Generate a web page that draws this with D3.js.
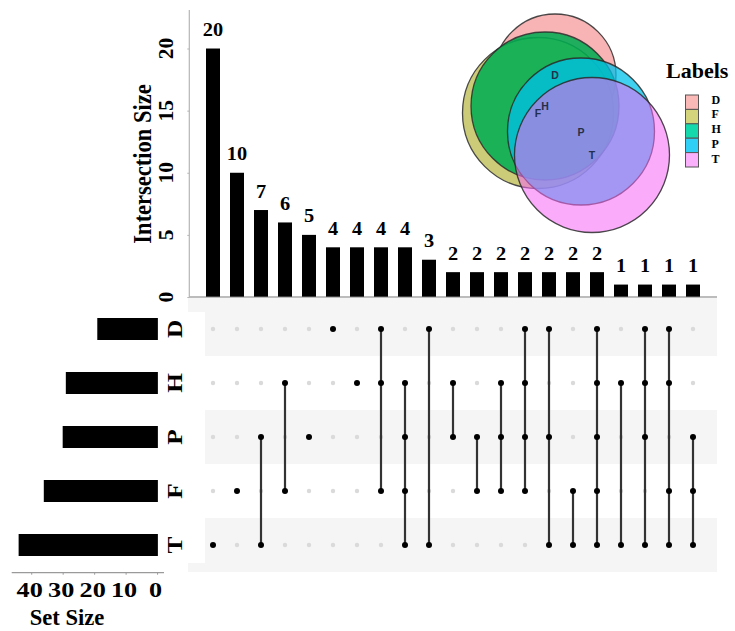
<!DOCTYPE html>
<html><head><meta charset="utf-8">
<script src="https://cdn.jsdelivr.net/npm/d3@7/dist/d3.min.js"></script>
<style>html,body{margin:0;padding:0;background:#fff;}svg{display:block;}</style>
</head><body>
<svg id="chart" width="735" height="631"></svg>
<script>
// ---------- DATA ----------
const setNames = ["D", "H", "P", "F", "T"];
const setSizes = [19, 29, 30, 36, 44];
const intersectionSizes = [20, 10, 7, 6, 5, 4, 4, 4, 4, 3, 2, 2, 2, 2, 2, 2, 2, 1, 1, 1, 1];
const intersectionSets = [
  ["T"], ["F"], ["P","T"], ["H","F"], ["P"], ["D"], ["H"], ["D","H","F"], ["H","P","F","T"],
  ["D","T"], ["H","P"], ["P","F"], ["H","P","F"], ["D","H","P","F"], ["D","P","T"], ["F","T"],
  ["D","H","P","F","T"], ["H","T"], ["D","H","P","T"], ["D","H","F","T"], ["P","F","T"]
];
const intersectionTicks = [0, 5, 10, 15, 20];
const setSizeTicks = [40, 30, 20, 10, 0];
const legendLabels = ["D", "F", "H", "P", "T"];
const legendColors = ["#fab8b6", "#d4d47c", "#16d8ad", "#30cff5", "#fbb0fb"];
// Venn circles (in venn units)
const vennLabels = ["D", "F", "H", "P", "T"];
const vennCx = [10.0, 8.3, 9.0, 12.6, 13.7];
const vennCy = [7.5, 11.3, 10.6, 13.15, 15.5];
const vennR  = [6.1, 7.55, 7.4, 7.35, 7.75];
const vennFill = ["#f8b4b4", "#cccb78", "#00ad52", "#00c0eb", "#f668f6"];
const vennOpacity = [1, 1, 0.87, 0.75, 0.55];

// ---------- LAYOUT ----------
const svg = d3.select("#chart");
const serif = "'Liberation Serif','Times New Roman',serif";
const sans = "'Liberation Sans',Arial,sans-serif";

const x = d3.scalePoint().domain(d3.range(intersectionSizes.length)).range([189, 717]).padding(1);
const yTop = d3.scaleLinear().domain([0, 23.1]).range([297, 10]);
const row = d3.scaleBand().domain(setNames).range([302, 572]).paddingInner(0).paddingOuter(0);
const xs = d3.scaleLinear().domain([-2.2, 46.2]).range([164, 11.7]);

// ---------- MATRIX BACKGROUND ----------
svg.append("rect").attr("x", 188).attr("y", 298).attr("width", 529).attr("height", 274).attr("fill", "#f5f5f5");
svg.selectAll("rect.stripe").data(setNames.filter((d, i) => i % 2 === 1)).join("rect")
  .attr("class", "stripe").attr("x", 188).attr("width", 529)
  .attr("y", d => row(d)).attr("height", row.bandwidth()).attr("fill", "#ffffff");
svg.append("rect").attr("x", 188).attr("y", 312).attr("width", 17).attr("height", 251).attr("fill", "#ffffff");

// ---------- TOP BARS ----------
const gTop = svg.append("g");
gTop.selectAll("rect.bar").data(intersectionSizes).join("rect")
  .attr("class", "bar")
  .attr("x", (d, i) => x(i) - 7).attr("width", 14)
  .attr("y", d => yTop(d)).attr("height", d => yTop(0) - yTop(d))
  .attr("fill", "#000");
gTop.selectAll("text.blab").data(intersectionSizes).join("text")
  .attr("class", "blab")
  .attr("transform", (d, i) => `translate(${x(i)},${yTop(d) - 12.5}) scale(1.1,1)`)
  .attr("text-anchor", "middle")
  .attr("font-family", serif).attr("font-weight", "bold").attr("font-size", 18.5)
  .text(d => d);

// axes lines
svg.append("line").attr("x1", 189).attr("x2", 717).attr("y1", 297).attr("y2", 297).attr("stroke", "#7a7a7a").attr("stroke-width", 1.2);
svg.append("line").attr("x1", 189.3).attr("x2", 189.3).attr("y1", yTop.range()[1]).attr("y2", 297).attr("stroke", "#b5b5b5").attr("stroke-width", 1.2);
const yAxisG = svg.append("g").attr("transform", "translate(189.3,0)")
  .call(d3.axisLeft(yTop).tickValues(intersectionTicks).tickSize(2).tickFormat(""));
yAxisG.select(".domain").remove();
yAxisG.selectAll(".tick line").attr("stroke", "#b5b5b5");
svg.selectAll("text.ytick").data(intersectionTicks).join("text")
  .attr("class", "ytick")
  .attr("transform", d => `translate(173,${yTop(d)}) rotate(-90)`)
  .attr("text-anchor", "middle")
  .attr("font-family", serif).attr("font-weight", "bold").attr("font-size", 21.5)
  .text(d => d);
svg.append("text")
  .attr("transform", "translate(151,164) rotate(-90) scale(1,1.15)")
  .attr("text-anchor", "middle")
  .attr("font-family", serif).attr("font-weight", "bold").attr("font-size", 22.5)
  .text("Intersection Size");

// ---------- MATRIX ----------
const cells = [];
intersectionSets.forEach((sets, i) => setNames.forEach(s => cells.push({ i, s, on: sets.includes(s) })));
svg.selectAll("circle.off").data(cells.filter(c => !c.on)).join("circle")
  .attr("class", "off").attr("cx", c => x(c.i)).attr("cy", c => row(c.s) + row.bandwidth() / 2)
  .attr("r", 2.2).attr("fill", "#dadada");
svg.selectAll("line.conn").data(intersectionSets.map((sets, i) => ({ i, sets })).filter(d => d.sets.length > 1)).join("line")
  .attr("class", "conn")
  .attr("x1", d => x(d.i)).attr("x2", d => x(d.i))
  .attr("y1", d => d3.min(d.sets, s => row(s)) + row.bandwidth() / 2)
  .attr("y2", d => d3.max(d.sets, s => row(s)) + row.bandwidth() / 2)
  .attr("stroke", "#333").attr("stroke-width", 2.2);
svg.selectAll("circle.on").data(cells.filter(c => c.on)).join("circle")
  .attr("class", "on").attr("cx", c => x(c.i)).attr("cy", c => row(c.s) + row.bandwidth() / 2)
  .attr("r", 3).attr("fill", "#000");

// row labels
svg.selectAll("text.rowlab").data(setNames).join("text")
  .attr("class", "rowlab")
  .attr("transform", d => `translate(182,${row(d) + row.bandwidth() / 2}) rotate(-90) scale(1.2,1)`)
  .attr("text-anchor", "middle")
  .attr("font-family", serif).attr("font-weight", "bold").attr("font-size", 21)
  .text(d => d);

// ---------- SET SIZE BARS ----------
svg.selectAll("rect.sbar").data(setNames).join("rect")
  .attr("class", "sbar")
  .attr("x", (d, i) => xs(setSizes[i])).attr("width", (d, i) => xs(0) - xs(setSizes[i]) + 0.8)
  .attr("y", d => row(d) + row.bandwidth() / 2 - 11).attr("height", 22)
  .attr("fill", "#000");
svg.append("line").attr("x1", 11.7).attr("x2", 164).attr("y1", 572.7).attr("y2", 572.7).attr("stroke", "#9a9a9a").attr("stroke-width", 1.2);
const sAxis = svg.append("g").attr("transform", "translate(0,572.7)")
  .call(d3.axisBottom(xs).tickValues(setSizeTicks).tickSize(2).tickFormat(""));
sAxis.select(".domain").remove();
sAxis.selectAll(".tick line").attr("stroke", "#9a9a9a");
svg.selectAll("text.stick").data(setSizeTicks).join("text")
  .attr("class", "stick")
  .attr("transform", d => `translate(${xs(d) - 1.5},597) scale(1.22,1)`)
  .attr("text-anchor", "middle")
  .attr("font-family", serif).attr("font-weight", "bold").attr("font-size", 21.5)
  .text(d => d);
svg.append("text")
  .attr("transform", "translate(67,625) scale(1.05,1.1)")
  .attr("text-anchor", "middle")
  .attr("font-family", serif).attr("font-weight", "bold").attr("font-size", 21.5)
  .text("Set Size");

// ---------- VENN ----------
const vs = d3.scaleLinear().domain([0, 1]).range([0, 10]);
const vennG = svg.append("g").attr("transform", "translate(455,0)");
const vennData = vennLabels.map((l, i) => ({ l, cx: vennCx[i], cy: vennCy[i], r: vennR[i], fill: vennFill[i], op: vennOpacity[i] }));
vennG.selectAll("circle").data(vennData).join("circle")
  .attr("cx", d => vs(d.cx)).attr("cy", d => vs(d.cy)).attr("r", d => vs(d.r))
  .attr("fill", d => d.fill).attr("fill-opacity", d => d.op)
  .attr("stroke", "#2a2a2a").attr("stroke-opacity", 0.85).attr("stroke-width", 1.3);
vennG.selectAll("text").data(vennData).join("text")
  .attr("x", d => vs(d.cx)).attr("y", d => vs(d.cy) + 4)
  .attr("text-anchor", "middle")
  .attr("font-family", sans).attr("font-weight", "bold").attr("font-size", 10.5)
  .attr("fill", "#24304a")
  .text(d => d.l);

// ---------- LEGEND ----------
svg.append("text").attr("x", 666).attr("y", 78)
  .attr("font-family", serif).attr("font-weight", "bold").attr("font-size", 22)
  .text("Labels");
const lg = svg.append("g");
lg.selectAll("rect").data(legendLabels).join("rect")
  .attr("x", 685.5).attr("y", (d, i) => 95 + i * 14.4).attr("width", 13).attr("height", 14.4)
  .attr("fill", (d, i) => legendColors[i]).attr("stroke", "#555").attr("stroke-width", 1);
lg.selectAll("text").data(legendLabels).join("text")
  .attr("x", 711.5).attr("y", (d, i) => 95 + i * 14.8 + 8.5)
  .attr("font-family", serif).attr("font-weight", "bold").attr("font-size", 12)
  .text(d => d);
</script>
</body></html>
